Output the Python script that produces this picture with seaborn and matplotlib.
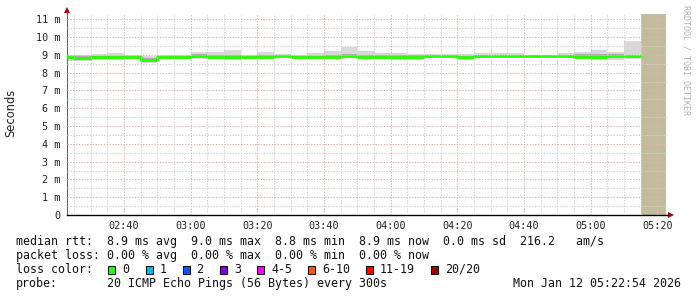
import numpy as np
import pandas as pd
import matplotlib
matplotlib.use("Agg")
import matplotlib.pyplot as plt
from matplotlib.patches import Rectangle
import seaborn as sns

# ---------------- data ----------------
window_start = "02:22:54"
window_end = "05:22:54"
unknown_start = "05:15"

step_start = ["02:20", "02:25", "02:30", "02:35", "02:40", "02:45", "02:50", "02:55",
              "03:00", "03:05", "03:10", "03:15", "03:20", "03:25", "03:30", "03:35",
              "03:40", "03:45", "03:50", "03:55", "04:00", "04:05", "04:10", "04:15",
              "04:20", "04:25", "04:30", "04:35", "04:40", "04:45", "04:50", "04:55",
              "05:00", "05:05", "05:10"]
median_ms = [8.85, 8.80, 8.85, 8.85, 8.90, 8.72, 8.88, 8.88, 8.92, 8.85, 8.85, 8.88,
             8.90, 8.95, 8.90, 8.90, 8.90, 8.92, 8.90, 8.90, 8.88, 8.90, 8.93, 8.93,
             8.85, 8.92, 8.93, 8.93, 8.95, 8.93, 8.93, 8.90, 8.90, 8.93, 8.92]
smoke_hi = [9.00, 9.00, 9.05, 9.10, 9.00, 8.95, 8.98, 9.00, 9.15, 9.15, 9.28, 9.00,
            9.15, 9.05, 9.00, 9.10, 9.22, 9.45, 9.20, 9.10, 9.10, 9.05, 9.05, 9.05,
            9.02, 9.10, 9.12, 9.08, 9.00, 9.00, 9.08, 9.15, 9.25, 9.15, 9.80]
smoke_lo = [8.65, 8.65, 8.70, 8.70, 8.75, 8.55, 8.75, 8.75, 8.75, 8.75, 8.70, 8.75,
            8.80, 8.85, 8.85, 8.85, 8.85, 8.85, 8.75, 8.75, 8.72, 8.72, 8.85, 8.85,
            8.72, 8.80, 8.85, 8.85, 8.88, 8.88, 8.85, 8.80, 8.70, 8.70, 8.75]
core_hi = [8.95, 8.92, 8.95, 8.95, 8.96, 8.80, 8.95, 8.94, 9.02, 8.98, 8.98, 8.95,
           8.98, 9.00, 8.96, 8.96, 8.98, 9.05, 9.00, 8.98, 9.00, 8.98, 8.98, 8.98,
           8.95, 8.98, 9.00, 9.00, 8.98, 8.97, 8.98, 9.02, 9.05, 9.02, 8.98]
core_lo = [8.75, 8.72, 8.78, 8.78, 8.82, 8.65, 8.82, 8.82, 8.85, 8.80, 8.78, 8.80,
           8.85, 8.90, 8.87, 8.87, 8.87, 8.88, 8.82, 8.82, 8.80, 8.80, 8.88, 8.88,
           8.78, 8.85, 8.88, 8.88, 8.92, 8.90, 8.88, 8.85, 8.80, 8.82, 8.85]

x_tick_labels = ["02:40", "03:00", "03:20", "03:40", "04:00", "04:20", "04:40", "05:00", "05:20"]
y_ticks = [0, 1, 2, 3, 4, 5, 6, 7, 8, 9, 10, 11]
y_tick_labels = ["0", "1 m", "2 m", "3 m", "4 m", "5 m", "6 m", "7 m", "8 m", "9 m", "10 m", "11 m"]

loss_labels = ["0", "1", "2", "3", "4-5", "6-10", "11-19", "20/20"]
loss_colors = ["#26ff00", "#00b8ff", "#0059ff", "#7e00ff", "#ff00ff", "#ff5500", "#ff0000", "#a10000"]

stats_line = "median rtt:  8.9 ms avg  9.0 ms max  8.8 ms min  8.9 ms now  0.0 ms sd  216.2   am/s"
loss_line = "packet loss: 0.00 % avg  0.00 % max  0.00 % min  0.00 % now"
probe_text = "20 ICMP Echo Pings (56 Bytes) every 300s"
date_text = "Mon Jan 12 05:22:54 2026"


def to_min(s):
    parts = [int(p) for p in s.split(":")]
    while len(parts) < 3:
        parts.append(0)
    return parts[0] * 60 + parts[1] + parts[2] / 60.0


# ---------------- figure ----------------
sns.set_style("white")
plt.rcParams['font.family'] = ['DejaVu Sans Mono', 'DejaVu Sans']

W, H = 697, 297
fig = plt.figure(figsize=(W / 100, H / 100), dpi=100)
fig.patch.set_facecolor("white")
ax_l, ax_r, ax_t, ax_b = 67, 667, 14, 215
ax = fig.add_axes([ax_l / W, (H - ax_b) / H, (ax_r - ax_l) / W, (ax_b - ax_t) / H])
ax.set_facecolor("white")

x0, x1 = to_min(window_start), to_min(window_end)
px_per_ms = 17.8
ymax = (ax_b - ax_t) / px_per_ms
ax.set_xlim(x0, x1)
ax.set_ylim(0, ymax)

t = [to_min(s) for s in step_start]
t_ext = t + [to_min(unknown_start)]
df = pd.DataFrame({
    "t": t_ext,
    "median": median_ms + [median_ms[-1]],
    "lo": smoke_lo + [smoke_lo[-1]],
    "hi": smoke_hi + [smoke_hi[-1]],
    "clo": core_lo + [core_lo[-1]],
    "chi": core_hi + [core_hi[-1]],
})

ax.fill_between(df["t"], df["lo"], df["hi"], step="post", color="#d8d8d8", lw=0, zorder=1)
ax.fill_between(df["t"], df["clo"], df["chi"], step="post", color="#adadad", lw=0, zorder=1.5)
sns.lineplot(data=df, x="t", y="median", drawstyle="steps-post", color="#26ff00",
             lw=2.0, ax=ax, zorder=3, legend=False)

# unknown region
ax.axvspan(to_min(unknown_start), x1 - 0.3, color="#c0bc9c", lw=0, zorder=2)

# grid (drawn on top, like rrdtool)
dash = (0, (1.4, 1.4))
for v in np.arange(0.5, ymax, 1.0):
    ax.axhline(v, color="#d2d2d2", lw=0.72, ls=dash, zorder=5)
for v in range(1, 12):
    ax.axhline(v, color="#e8b0b0", lw=0.72, ls=dash, zorder=6)
major_x = [to_min(s) for s in x_tick_labels]
minor_x = np.arange(np.ceil(x0 / 5) * 5, x1, 5)
for v in minor_x:
    if v not in major_x:
        ax.axvline(v, color="#d2d2d2", lw=0.72, ls=dash, zorder=5)
for v in major_x:
    ax.axvline(v, color="#e8b0b0", lw=0.72, ls=dash, zorder=6)

# ticks
ax.set_xticks(major_x)
ax.set_xticklabels(x_tick_labels)
ax.set_xticks(minor_x, minor=True)
ax.set_yticks(y_ticks)
ax.set_yticklabels(y_tick_labels)
ax.set_yticks(np.arange(0.5, ymax, 1.0), minor=True)
ax.tick_params(axis="both", which="both", direction="out", length=2, width=0.7,
               colors="#555555", labelcolor="#222222", labelsize=7.3)
ax.tick_params(axis="x", which="major", pad=2)
ax.tick_params(axis="y", which="major", pad=3)
ax.set_xlabel("")
ax.set_ylabel("")

for s in ["top", "right"]:
    ax.spines[s].set_visible(False)
ax.spines["left"].set_color("#666666")
ax.spines["left"].set_linewidth(0.8)
ax.spines["bottom"].set_color("#000000")
ax.spines["bottom"].set_linewidth(1.0)

# axis extensions and arrows
ax.plot([0, 0], [1.0, 1.01], transform=ax.transAxes, color="#666666", lw=0.8, clip_on=False)
ax.plot([1.0, 1.004], [0, 0], transform=ax.transAxes, color="#000000", lw=1.0, clip_on=False)
ax.plot([0], [1.02], marker="^", ms=4, color="#a00000", transform=ax.transAxes, clip_on=False, mew=0)
ax.plot([1.006], [0], marker=">", ms=4, color="#a00000", transform=ax.transAxes, clip_on=False, mew=0)


def fx(x):
    return x / W


def fy(y):
    return 1 - y / H


# labels
fig.text(fx(11), fy(113), "Seconds", rotation=90, ha="center", va="center",
         family=["DejaVu Sans"], fontsize=8.3, color="#222222")
fig.text(fx(686), fy(5), "RRDTOOL / TOBI OETIKER", rotation=270, ha="center", va="top",
         fontsize=6.0, color="#b0b0b0")

fs = 8.4
fig.text(fx(16), fy(241.5), stats_line, ha="left", va="center", fontsize=fs, color="#111111")
fig.text(fx(16), fy(255.5), loss_line, ha="left", va="center", fontsize=fs, color="#111111")
fig.text(fx(16), fy(269.5), "loss color:", ha="left", va="center", fontsize=fs, color="#111111")
fig.text(fx(16), fy(283.5), "probe:", ha="left", va="center", fontsize=fs, color="#111111")
fig.text(fx(107), fy(283.5), probe_text, ha="left", va="center", fontsize=fs, color="#111111")
fig.text(fx(681), fy(283.5), date_text, ha="right", va="center", fontsize=fs, color="#111111")

box_x = [108, 145.5, 182.5, 220, 257, 308, 366, 431]
for bx, lab, col in zip(box_x, loss_labels, loss_colors):
    fig.patches.append(Rectangle((fx(bx), fy(273.5)), 7 / W, 8 / H, transform=fig.transFigure,
                                 facecolor=col, edgecolor="black", lw=0.7))
    fig.text(fx(bx + 14), fy(269.5), lab, ha="left", va="center", fontsize=fs, color="#111111")

fig.savefig("out.png", dpi=100, facecolor="white")
